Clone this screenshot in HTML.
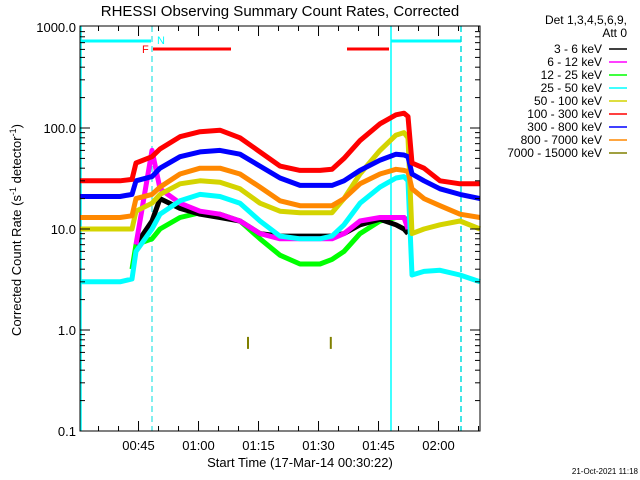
<!DOCTYPE html>
<html><head><meta charset="utf-8"><style>
body{margin:0;background:#fff;}
svg{display:block;font-family:"Liberation Sans",sans-serif;}
</style></head><body>
<svg id="c" width="640" height="480" viewBox="0 0 640 480">
<text x="280" y="16" font-size="15" text-anchor="middle">RHESSI Observing Summary Count Rates, Corrected</text>
<text transform="translate(21,230) rotate(-90)" font-size="13" text-anchor="middle">Corrected Count Rate (s<tspan font-size="9" dy="-5">-1</tspan><tspan dy="5"> detector</tspan><tspan font-size="9" dy="-5">-1</tspan><tspan dy="5">)</tspan></text>
<text x="300" y="467" font-size="13" text-anchor="middle">Start Time (17-Mar-14 00:30:22)</text>
<text x="638" y="474" font-size="8" text-anchor="end">21-Oct-2021 11:18</text>
<g id="plot"></g>
<g id="axes"></g>
<g id="legend"></g>
</svg>
<script>
const times = [0,5,10,13,14,18,20,25,30,35,40,45,50,55,60,63,66,70,75,79,81,82,83,86,90,95,100];
const s3_6 = [null,null,null,null,7,12,20,16,14,13,12,9,8.5,8.5,8.5,8.5,9,11,12.5,11,10,9,null,null,null,null,null];
const s6_12 = [null,null,null,null,7,60,25,18,15,14,12,9,8,8,8,8,9,12,13,13,13,10,null,null,null,null,null];
const s12_25 = [null,null,null,4,7,8,10,13,14.5,14,12,8,5.5,4.5,4.5,5,6,9,12,13,13,12,null,null,null,null,null];
const s25_50 = [3,3,3,3.2,6,10,14,19,22,21,18,12,8.5,8,8,8.5,11,18,26,32,33,30,3.5,3.8,3.9,3.5,3];
const s50_100 = [10,10,10,10,15,18,22,28,30,29,25,18,15,14.5,14.5,14.5,20,35,60,85,90,80,9,10,11,12,10];
const s100_300 = [30,30,30,31,45,52,62,82,92,95,80,58,42,38,38,39,50,75,110,135,140,130,45,40,30,28,28];
const s300_800 = [21,21,21,22,30,33,40,52,58,60,55,42,32,27,27,27,30,38,48,55,54,52,35,30,25,22,20];
const s800_7000 = [13,13,13,13.5,20,22,26,35,40,40,35,26,19,17,17,17,20,28,35,39,38,37,25,20,17,14,13];
const oliveTimes = [42,62.7];
const oliveVals = [0.65,0.65];
const yTickLabels = ["1000.0","100.0","10.0","1.0","0.1"];
const xTickLabels = ["00:45","01:00","01:15","01:30","01:45","02:00"];
const xTickMinutes = [14.63,29.63,44.63,59.63,74.63,89.63];
const legendLabels = ["3 - 6 keV","6 - 12 keV","12 - 25 keV","25 - 50 keV","50 - 100 keV","100 - 300 keV","300 - 800 keV","800 - 7000 keV","7000 - 15000 keV"];
const colors = ["#000000","#ff00ff","#00ff00","#00ffff","#d4d400","#ff0000","#0000ff","#ff8800","#808000"];

const X0=80,X1=480,YB=431,DEC=101;
const xs = t => X0 + (t/100)*(X1-X0);
const ys = v => YB - DEC*(Math.log10(v)+1);
const NS="http://www.w3.org/2000/svg";
function mk(tag,attrs,parent){const e=document.createElementNS(NS,tag);for(const k in attrs)e.setAttribute(k,attrs[k]);parent.appendChild(e);return e;}
const plot=document.getElementById('plot'), axes=document.getElementById('axes'), leg=document.getElementById('legend');

let e;
e=mk('line',{x1:80,y1:41,x2:151,y2:41,stroke:'#00ffff','stroke-width':3},plot);


e=mk('line',{x1:391,y1:41,x2:461,y2:41,stroke:'#00ffff','stroke-width':3},plot);


e=mk('line',{x1:153,y1:49,x2:231,y2:49,stroke:'#ff0000','stroke-width':3},plot);


e=mk('line',{x1:347,y1:49,x2:389,y2:49,stroke:'#ff0000','stroke-width':3},plot);


e=mk('text',{x:142,y:53,fill:'#ff0000','font-size':11},plot);e.textContent='F';


e=mk('text',{x:157,y:44,fill:'#00ffff','font-size':11},plot);e.textContent='N';


e=mk('line',{x1:81,y1:26,x2:81,y2:431,stroke:'#00ffff','stroke-width':1.5},plot);


e=mk('line',{x1:391,y1:26,x2:391,y2:431,stroke:'#00ffff','stroke-width':1.5},plot);


e=mk('line',{x1:152,y1:26,x2:152,y2:431,stroke:'#00dddd','stroke-width':1,'stroke-dasharray':'6,4'},plot);


e=mk('line',{x1:461,y1:26,x2:461,y2:431,stroke:'#00dddd','stroke-width':1.5,'stroke-dasharray':'6,4'},plot);



const series=[s3_6,s6_12,s12_25,s25_50,s50_100,s100_300,s300_800,s800_7000];
const order=[2,0,1,3,4,7,6,5];
const names=['series-3-6kev','series-6-12kev','series-12-25kev','series-25-50kev','series-50-100kev','series-100-300kev','series-300-800kev','series-800-7000kev'];
order.forEach(i=>{
  const d=series[i];let segs=[],cur=[];
  d.forEach((v,j)=>{if(v==null){if(cur.length)segs.push(cur);cur=[];}else cur.push(xs(times[j]).toFixed(1)+','+ys(v).toFixed(1));});
  if(cur.length)segs.push(cur);
  segs.forEach(s=>{
    const p=mk('polyline',{points:s.join(' '),fill:'none',stroke:colors[i],'stroke-width':5,'stroke-linejoin':'round'},plot);
    
    
  });
});
oliveVals.forEach((v,j)=>{
  const x=xs(oliveTimes[j]);
  const l=mk('line',{x1:x,y1:ys(v),x2:x,y2:ys(v)-12,stroke:colors[8],'stroke-width':2},plot);
  
  
});

e=mk('rect',{x:80,y:26,width:400,height:405,fill:'none',stroke:'#000','stroke-width':1},axes);


for(let d=0;d<4;d++){
  for(let m=1;m<10;m++){
    const v=Math.pow(10,d-1)*m;const y=ys(v);const L=m==1?10:5;
    mk('line',{x1:80,y1:y,x2:80+L,y2:y,stroke:'#000'},axes);
    mk('line',{x1:480,y1:y,x2:480-L,y2:y,stroke:'#000'},axes);
  }
}
yTickLabels.forEach((s,i)=>{
  const t=mk('text',{x:76,y:ys(Math.pow(10,3-i))+5,'font-size':13,'text-anchor':'end'},axes);t.textContent=s;
  
  
});
for(let k=0;k<20;k++){
  const t=-0.37+5*(k+1);const x=xs(t);if(x>480)break;
  const major=(k%3==2);const L=major?10:5;
  mk('line',{x1:x,y1:431,x2:x,y2:431-L,stroke:'#000'},axes);
  mk('line',{x1:x,y1:26,x2:x,y2:26+L,stroke:'#000'},axes);
}
xTickLabels.forEach((s,i)=>{
  const t=mk('text',{x:xs(xTickMinutes[i]),y:450,'font-size':13,'text-anchor':'middle'},axes);t.textContent=s;
  
  
});
e=mk('text',{x:627,y:24,'font-size':12,'text-anchor':'end'},leg);e.textContent='Det 1,3,4,5,6,9,';


e=mk('text',{x:627,y:37,'font-size':12,'text-anchor':'end'},leg);e.textContent='Att 0';


legendLabels.forEach((s,i)=>{
  const y=48+13*i;
  const t=mk('text',{x:602,y:y+5,'font-size':12,'text-anchor':'end'},leg);t.textContent=s;
  
  
  const l=mk('line',{x1:609,y1:y+1,x2:627,y2:y+1,stroke:colors[i],'stroke-width':1.5},leg);
  
  
});
</script>
</body></html>
